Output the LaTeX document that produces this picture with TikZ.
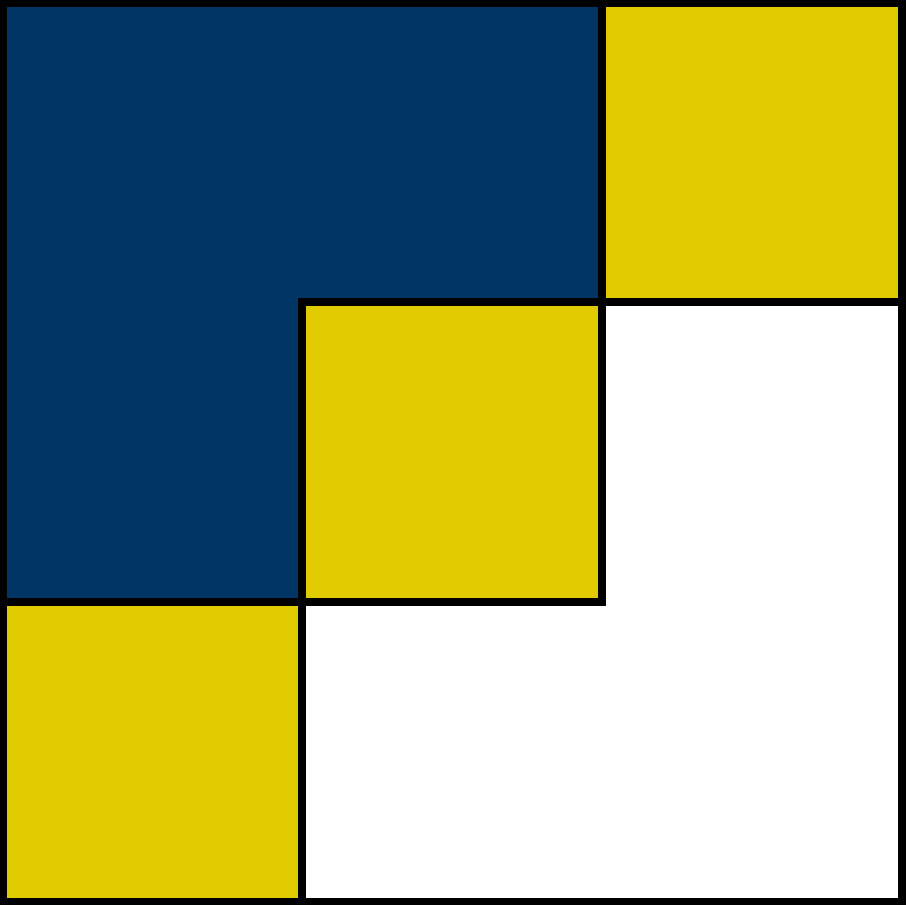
\documentclass[tikz,border=0pt]{standalone}
\definecolor{navy}{RGB}{0,53,102}
\definecolor{gold}{RGB}{224,202,0}
\tikzset{edge/.style={draw=black,line width=8.5pt,line join=miter}}
\begin{document}
\begin{tikzpicture}[x=1pt,y=-1pt]
\useasboundingbox (0,0) rectangle (906,905);
\fill[white] (0,0) rectangle (906,905);
\fill[navy] (3.5,3.5) -- (602,3.5) -- (602,302) -- (302,302) -- (302,602) -- (3.5,602) -- cycle;
\fill[gold] (602,3.5) rectangle (902,302);
\fill[gold] (302,302) rectangle (602,602);
\fill[gold] (3.5,602) rectangle (302,901.5);
\coordinate (a) at (602,3.5);
\coordinate (b) at (602,602);
\coordinate (c) at (302,302);
\coordinate (d) at (902,302);
\coordinate (e) at (302,901.5);
\coordinate (f) at (3.5,602);
\draw[edge] (f) -- (b) -- (a);
\draw[edge] (e) -- (c) -- (d);
\draw[draw=black,line width=7.5pt] (3.5,3.5) rectangle (902,901.5);
\end{tikzpicture}
\end{document}
